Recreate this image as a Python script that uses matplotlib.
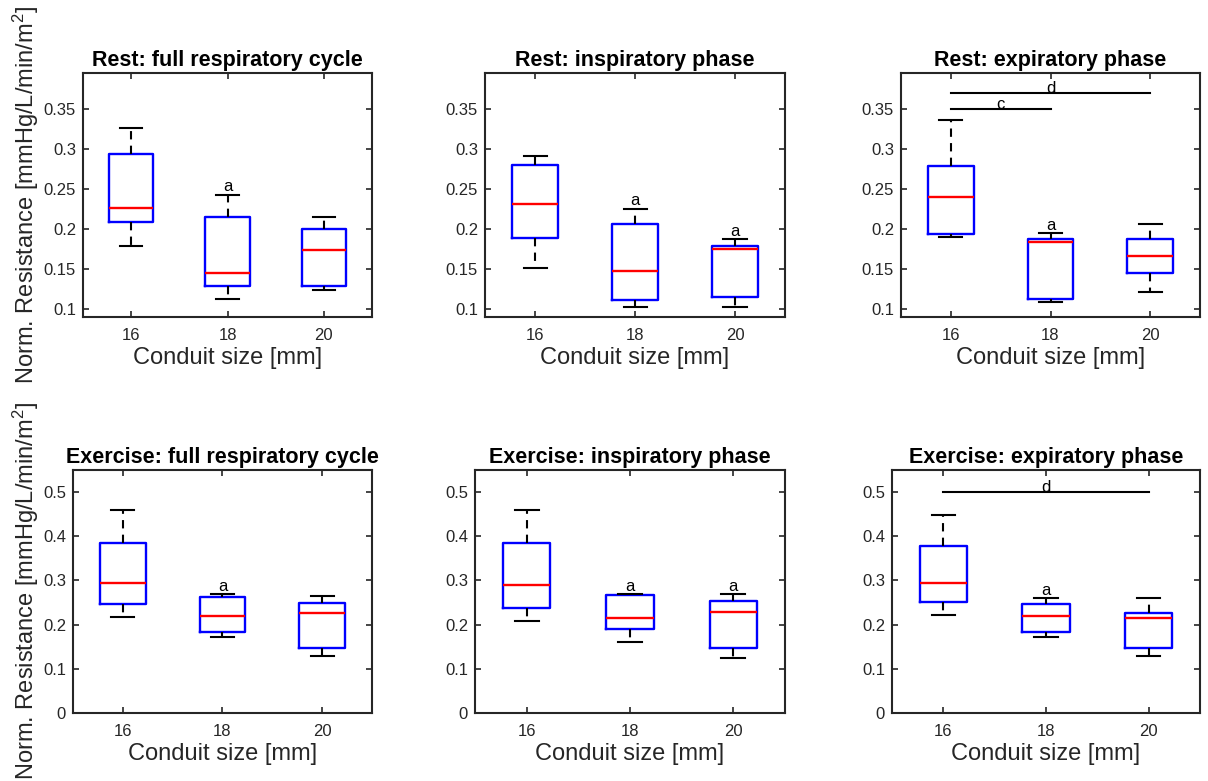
import matplotlib
matplotlib.use('Agg')
from matplotlib import pyplot as plt
from matplotlib.ticker import FormatStrFormatter

plt.rcParams['font.family'] = ['Liberation Sans', 'DejaVu Sans']
plt.rcParams['mathtext.default'] = 'regular'

# conduit sizes on the x axis
sizes = [16, 18, 20]

titles = ['Rest: full respiratory cycle', 'Rest: inspiratory phase', 'Rest: expiratory phase',
          'Exercise: full respiratory cycle', 'Exercise: inspiratory phase', 'Exercise: expiratory phase']

# box statistics, one row per panel, one column per conduit size
whisker_low = [[0.179, 0.1125, 0.1238],
               [0.1513, 0.1021, 0.102],
               [0.1902, 0.1088, 0.1209],
               [0.2173, 0.1722, 0.1286],
               [0.209, 0.1609, 0.1248],
               [0.2218, 0.1714, 0.1301]]
quart1 = [[0.2085, 0.1284, 0.1284],
          [0.1889, 0.1117, 0.1154],
          [0.1935, 0.1125, 0.1447],
          [0.2466, 0.1842, 0.1481],
          [0.2383, 0.1895, 0.1481],
          [0.2504, 0.1835, 0.1466]]
medians = [[0.226, 0.1455, 0.1739],
           [0.2311, 0.148, 0.1755],
           [0.2402, 0.1839, 0.1664],
           [0.2932, 0.2203, 0.2256],
           [0.2887, 0.2158, 0.2278],
           [0.2932, 0.2195, 0.2143]]
quart3 = [[0.2932, 0.2144, 0.2006],
          [0.2803, 0.2068, 0.1789],
          [0.279, 0.1876, 0.1872],
          [0.385, 0.2624, 0.2489],
          [0.3842, 0.2662, 0.2526],
          [0.3774, 0.2459, 0.2263]]
whisker_high = [[0.3258, 0.2427, 0.2152],
                [0.2916, 0.2256, 0.1872],
                [0.3366, 0.1947, 0.206],
                [0.4586, 0.2684, 0.2654],
                [0.4586, 0.2692, 0.2692],
                [0.4481, 0.2602, 0.2609]]

# "a" markers (sizes that get a letter above the whisker), per panel
a_marks = [[18], [18, 20], [18], [18], [18, 20], [18]]

# significance bars: panel, from size, to size, level, letter
sig_panel = [2, 2, 5]
sig_from = [16, 16, 16]
sig_to = [18, 20, 20]
sig_level = [0.35, 0.37, 0.50]
sig_letter = ['c', 'd', 'd']

W, H = 1208, 781
# axes boxes in pixels: left, top, right, bottom
boxes = [(83, 73, 372, 317), (485, 73, 785, 317), (901, 73, 1200, 317),
         (73, 470, 372, 713), (475, 470, 785, 713), (892, 470, 1200, 713)]

fig = plt.figure(figsize=(W / 100, H / 100), dpi=100)
dark = '#262626'

axes = []
for i, (l, t, r, b) in enumerate(boxes):
    ax = fig.add_axes([l / W, 1 - b / H, (r - l) / W, (b - t) / H])
    axes.append(ax)

    stats = []
    for j in range(3):
        stats.append({'whislo': whisker_low[i][j], 'q1': quart1[i][j], 'med': medians[i][j],
                      'q3': quart3[i][j], 'whishi': whisker_high[i][j]})
    ax.bxp(stats, positions=sizes, widths=0.92, capwidths=0.46, showfliers=False,
           boxprops=dict(color='blue', lw=1.7),
           medianprops=dict(color='red', lw=1.7),
           whiskerprops=dict(color='k', lw=1.5, linestyle=(0, (4, 3))),
           capprops=dict(color='k', lw=1.5))

    for s in a_marks[i]:
        j = sizes.index(s)
        ax.annotate('a', (s, whisker_high[i][j]), xytext=(0, 2.5), textcoords='offset points',
                    ha='center', va='baseline', fontsize=12)

    ax.set_xlim(15, 21)
    ax.set_xticks(sizes)
    ax.set_xticklabels([str(s) for s in sizes])
    if i < 3:
        ax.set_ylim(0.09, 0.395)
        ax.set_yticks([0.1, 0.15, 0.2, 0.25, 0.3, 0.35])
    else:
        ax.set_ylim(0, 0.55)
        ax.set_yticks([0, 0.1, 0.2, 0.3, 0.4, 0.5])
    ax.yaxis.set_major_formatter(FormatStrFormatter('%g'))

    ax.tick_params(direction='in', top=True, right=True, length=4, width=1.2,
                   colors=dark, labelsize=12)
    ax.tick_params(axis='x', pad=8)
    ax.tick_params(axis='y', pad=5)
    for sp in ax.spines.values():
        sp.set_linewidth(1.5)
        sp.set_color(dark)

    ax.set_title(titles[i], fontsize=15.5, fontweight='bold', pad=5)
    ax.set_xlabel('Conduit size [mm]', fontsize=17, color=dark, labelpad=3)
    if i % 3 == 0:
        ax.set_ylabel('Norm. Resistance [mmHg/L/min/m$^2$]', fontsize=17, color=dark)

for p, x0, x1, y, lab in zip(sig_panel, sig_from, sig_to, sig_level, sig_letter):
    ax = axes[p]
    ax.plot([x0, x1], [y, y], color='k', lw=1.5)
    ax.text((x0 + x1) / 2, y, lab, ha='center', va='baseline', fontsize=12)

# put both y labels at the same horizontal spot
for i in (0, 3):
    axes[i].yaxis.set_label_coords((41 - boxes[i][0]) / (boxes[i][2] - boxes[i][0]), 0.5)

plt.savefig('out.png', dpi=100)
